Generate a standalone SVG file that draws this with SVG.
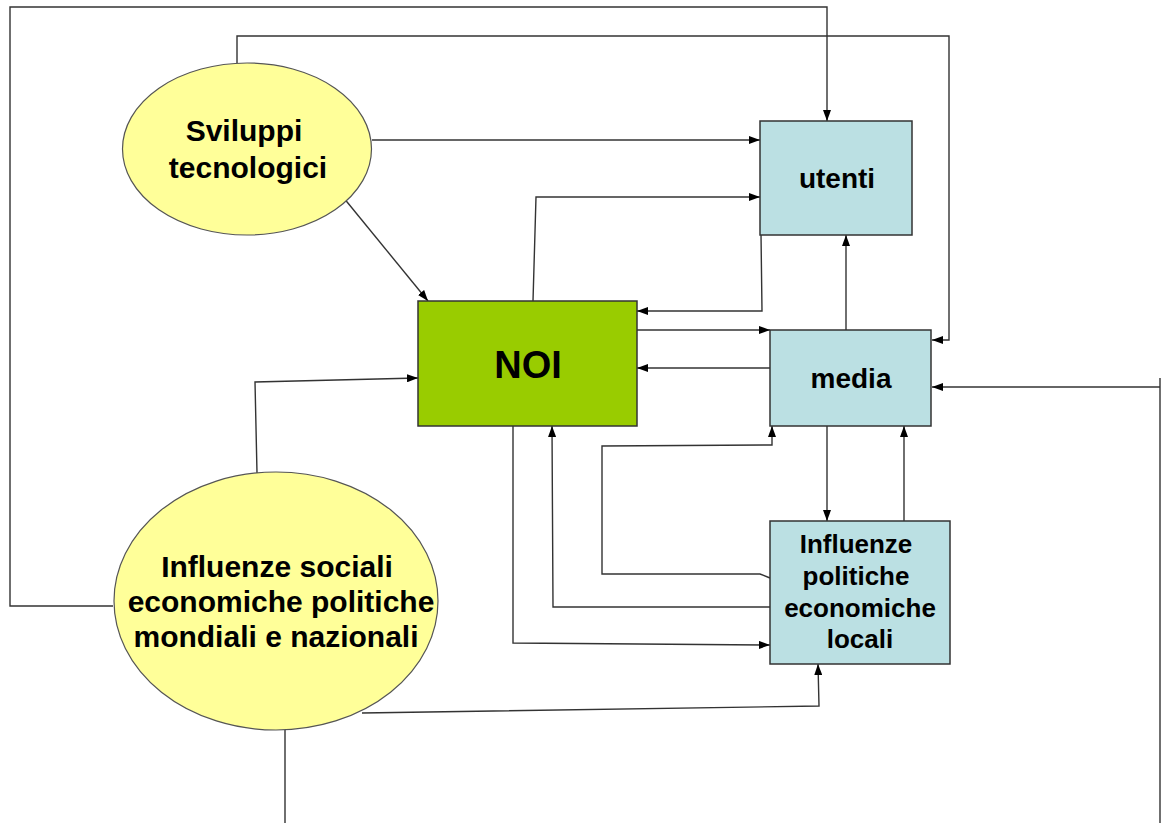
<svg xmlns="http://www.w3.org/2000/svg" width="1164" height="823" viewBox="0 0 1164 823">
<style>
.ell{fill:#ffff99;stroke:#555;stroke-width:1.2}
.box{fill:#bbe0e3;stroke:#333;stroke-width:1.5}
.noi{fill:#99cc00;stroke:#333;stroke-width:1.5}
.t{font-family:"Liberation Sans",Arial,sans-serif;font-weight:bold;fill:#000;text-anchor:middle}
.c{fill:none;stroke:#333;stroke-width:1.4}
.a{marker-end:url(#arr)}
</style>
<defs>
<marker id="arr" viewBox="0 0 11 8" refX="11" refY="4" markerWidth="11" markerHeight="8" markerUnits="userSpaceOnUse" orient="auto">
<path d="M0,0 L11,4 L0,8 z" fill="#000"/>
</marker>
</defs>
<rect width="1164" height="823" fill="#fff"/>
<g id="connectors">
<path class="c a" d="M113,606 H10 V7 H827 V121"/>
<path class="c a" d="M237,63 V36 H949 V340 H932"/>
<path class="c a" d="M372,140 H760"/>
<path class="c a" d="M343,197 L428,301"/>
<path class="c a" d="M533,301 L536,197 H760"/>
<path class="c a" d="M761,234 L762,311 H637"/>
<path class="c a" d="M637,330 H770"/>
<path class="c a" d="M770,368 H637"/>
<path class="c a" d="M846,330 V235"/>
<path class="c" d="M1160,378 V823"/>
<path class="c a" d="M1160,387 H932"/>
<path class="c" d="M285,730 V823"/>
<path class="c a" d="M257,473 L255,382 L418,378"/>
<path class="c a" d="M362,713 L819,706 L818,664"/>
<path class="c a" d="M513,426 V643 L770,645"/>
<path class="c a" d="M770,607 H553 L552,426"/>
<path class="c a" d="M770,578 L760,574 H602 V446 L772,445 V426"/>
<path class="c a" d="M827,415 V521"/>
<path class="c a" d="M904,521 V426"/>
</g>
<g id="sviluppi">
<ellipse class="ell" cx="247" cy="149" rx="124.5" ry="86"/>
<text class="t" font-size="30" x="244" y="141">Sviluppi</text>
<text class="t" font-size="30" x="248" y="178">tecnologici</text>
</g>
<g id="influenze-sociali">
<ellipse class="ell" cx="276" cy="601" rx="162" ry="129"/>
<text class="t" font-size="30" x="277" y="577">Influenze sociali</text>
<text class="t" font-size="30" x="281" y="612">economiche politiche</text>
<text class="t" font-size="30" x="276" y="647">mondiali e nazionali</text>
</g>
<g id="utenti">
<rect class="box" x="760" y="121" width="152" height="114"/>
<text class="t" font-size="28" x="837" y="188">utenti</text>
</g>
<g id="noi">
<rect class="noi" x="418" y="301" width="219" height="125"/>
<text class="t" font-size="38" x="528" y="378">NOI</text>
</g>
<g id="media">
<rect class="box" x="770" y="330" width="161" height="96"/>
<text class="t" font-size="28" x="851" y="388">media</text>
</g>
<g id="influenze-locali">
<rect class="box" x="770" y="521" width="180" height="143"/>
<text class="t" font-size="26" x="856" y="553">Influenze</text>
<text class="t" font-size="26" x="856" y="585">politiche</text>
<text class="t" font-size="26" x="860" y="617">economiche</text>
<text class="t" font-size="26" x="860" y="648">locali</text>
</g>
</svg>
